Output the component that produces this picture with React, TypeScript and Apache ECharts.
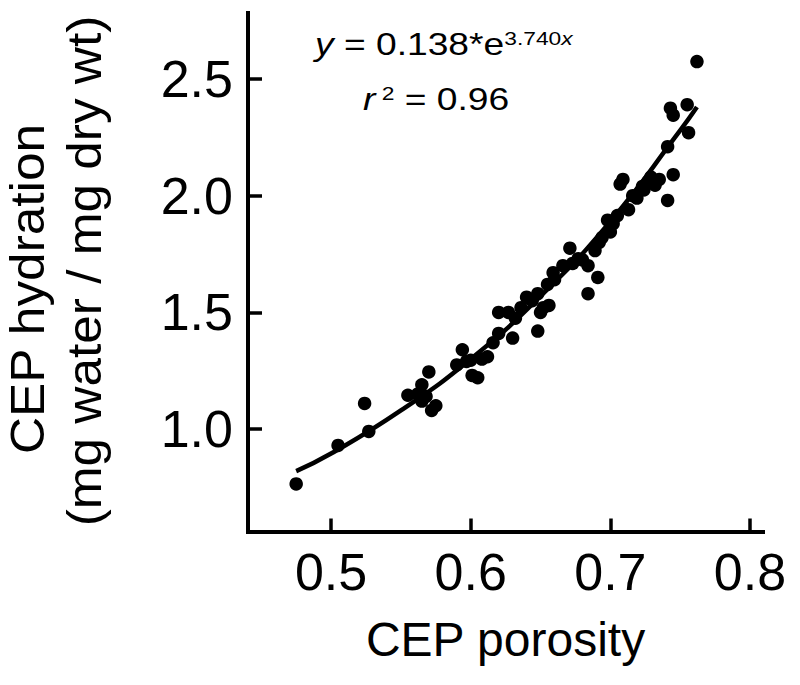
import React, { useEffect, useRef } from "react";
import * as echarts from "echarts";

// Measured points: CEP porosity (x) vs CEP hydration (y)
const porosity = [
  0.475, 0.505, 0.524, 0.527, 0.555, 0.562, 0.565, 0.565, 0.568, 0.570,
  0.572, 0.575, 0.590, 0.594, 0.597, 0.600, 0.601, 0.605, 0.608, 0.612,
  0.616, 0.620, 0.620, 0.627, 0.630, 0.632, 0.636, 0.640, 0.644, 0.648,
  0.648, 0.650, 0.652, 0.656, 0.655, 0.659, 0.660, 0.666, 0.671, 0.673,
  0.677, 0.680, 0.684, 0.684, 0.689, 0.691, 0.692, 0.694, 0.698, 0.700,
  0.702, 0.705, 0.707, 0.709, 0.713, 0.716, 0.719, 0.723, 0.724, 0.727,
  0.729, 0.732, 0.735, 0.741, 0.741, 0.743, 0.745, 0.745, 0.755, 0.756,
  0.762,
];
const hydration = [
  0.765, 0.93, 1.11, 0.99, 1.145, 1.15, 1.19, 1.12, 1.14, 1.245,
  1.08, 1.10, 1.275, 1.34, 1.29, 1.295, 1.23, 1.22, 1.30, 1.31,
  1.37, 1.41, 1.50, 1.50, 1.39, 1.475, 1.52, 1.565, 1.55, 1.58,
  1.42, 1.50, 1.52, 1.53, 1.62, 1.67, 1.64, 1.70, 1.775, 1.71,
  1.73, 1.725, 1.70, 1.58, 1.765, 1.65, 1.80, 1.82, 1.895, 1.845,
  1.88, 1.915, 2.05, 2.07, 1.94, 2.00, 1.99, 2.04, 2.025, 2.06,
  2.08, 2.045, 2.07, 1.98, 2.21, 2.375, 2.345, 2.09, 2.39, 2.27,
  2.575,
];

// Fitted curve y = 0.138*e^(3.740x)
const fitX = [0.475, 0.5, 0.55, 0.6, 0.65, 0.7, 0.75, 0.762];
const fitY = [0.82, 0.895, 1.08, 1.30, 1.57, 1.89, 2.28, 2.38];

const xTickValues = [0.5, 0.6, 0.7, 0.8];
const yTickValues = [1.0, 1.5, 2.0, 2.5];

const FONT = "'Liberation Sans', Arial, Helvetica, sans-serif";

export default function App() {
  const ref = useRef<HTMLDivElement>(null);
  useEffect(() => {
    const chart = echarts.init(ref.current!, null, { renderer: "svg" });
    const scatterData = porosity.map((x, i) => [x, hydration[i]]);
    const fitData = fitX.map((x, i) => [x, fitY[i]]);
    const mainRich = (extra: any = {}) => ({
      fontFamily: FONT,
      fontSize: 31,
      lineHeight: 31,
      verticalAlign: "bottom",
      fill: "#000",
      ...extra,
    });
    const supRich = (extra: any = {}) => ({
      fontFamily: FONT,
      fontSize: 19,
      lineHeight: 19,
      verticalAlign: "top",
      fill: "#000",
      ...extra,
    });
    chart.setOption({
      animation: false,
      backgroundColor: "#ffffff",
      grid: { left: 248, top: 13, right: 37, bottom: 153.5, outerBoundsMode: "none", containLabel: false },
      xAxis: {
        type: "value",
        min: 0.4405,
        max: 0.8093,
        name: "CEP porosity",
        nameLocation: "middle",
        nameGap: 84,
        nameTextStyle: { fontFamily: FONT, fontSize: 48, color: "#000" },
        axisLine: {
          show: true,
          onZero: false,
          lineStyle: { color: "#000", width: 4, cap: "square" },
        },
        axisTick: {
          show: true,
          inside: true,
          length: 13,
          customValues: xTickValues,
          lineStyle: { color: "#000", width: 3.5 },
        },
        axisLabel: {
          show: true,
          customValues: xTickValues,
          margin: 14,
          fontFamily: FONT,
          fontSize: 52,
          color: "#000",
          formatter: (v: number) => v.toFixed(1),
        },
        splitLine: { show: false },
      },
      yAxis: {
        type: "value",
        min: 0.561,
        max: 2.783,
        axisLine: {
          show: true,
          onZero: false,
          lineStyle: { color: "#000", width: 4, cap: "square" },
        },
        axisTick: {
          show: true,
          inside: true,
          length: 14,
          customValues: yTickValues,
          lineStyle: { color: "#000", width: 3.5 },
        },
        axisLabel: {
          show: true,
          customValues: yTickValues,
          margin: 15,
          fontFamily: FONT,
          fontSize: 52,
          color: "#000",
          formatter: (v: number) => v.toFixed(1),
        },
        splitLine: { show: false },
      },
      series: [
        {
          type: "line",
          data: fitData,
          smooth: true,
          showSymbol: false,
          symbol: "none",
          lineStyle: { color: "#000", width: 4.5 },
          z: 2,
        },
        {
          type: "scatter",
          data: scatterData,
          symbol: "circle",
          symbolSize: 13.5,
          itemStyle: { color: "#000", opacity: 1 },
          z: 3,
        },
      ],
      graphic: [
        {
          type: "text",
          x: 27.5,
          y: 289,
          rotation: Math.PI / 2,
          scaleX: 1.07,
          style: {
            text: "CEP hydration",
            fontFamily: FONT,
            fontSize: 48,
            fill: "#000",
            align: "center",
            verticalAlign: "middle",
          },
        },
        {
          type: "text",
          x: 85,
          y: 271,
          rotation: Math.PI / 2,
          scaleX: 1.07,
          style: {
            text: "(mg water / mg dry wt)",
            fontFamily: FONT,
            fontSize: 48,
            fill: "#000",
            align: "center",
            verticalAlign: "middle",
          },
        },
        {
          type: "text",
          x: 315,
          y: 29,
          scaleX: 1.2,
          style: {
            text: "{i|y}{n| = 0.138*e}{sup|3.740}{supi|x}",
            align: "left",
            verticalAlign: "top",
            lineHeight: 38,
            rich: {
              i: mainRich({ fontStyle: "italic", lineHeight: 31 }),
              n: mainRich(),
              sup: supRich(),
              supi: supRich({ fontStyle: "italic" }),
            },
          },
        },
        {
          type: "text",
          x: 363,
          y: 84,
          scaleX: 1.2,
          style: {
            text: "{i|r}{sup| 2}{n| = 0.96}",
            align: "left",
            verticalAlign: "top",
            lineHeight: 38,
            rich: {
              i: mainRich({ fontStyle: "italic" }),
              n: mainRich(),
              sup: supRich(),
            },
          },
        },
      ],
    });
    return () => chart.dispose();
  }, []);
  return (
    <div
      ref={ref}
      style={{ position: "fixed", left: 0, top: 0, width: 800, height: 685, background: "#fff" }}
    />
  );
}
